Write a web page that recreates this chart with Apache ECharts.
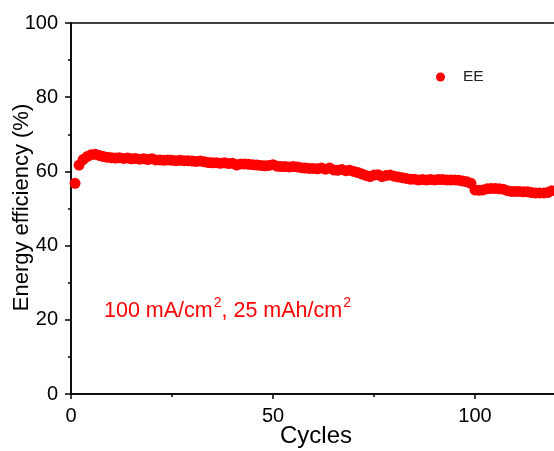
<!DOCTYPE html>
<html>
<head>
<meta charset="utf-8">
<script src="https://cdn.jsdelivr.net/npm/echarts@6/dist/echarts.min.js"></script>
<style>
  html, body { margin: 0; padding: 0; background: #fff; }
  #main { width: 554px; height: 451px; }
</style>
</head>
<body>
<div id="main"></div>
<script>
// energy efficiency per cycle
const cycles = [];
for (let i = 1; i <= 119; i++) cycles.push(i);
const ee = [
  56.8, 61.7, 63.2, 64.0, 64.5, 64.6, 64.3, 64.0, 63.8, 63.7,
  63.6, 63.7, 63.5, 63.6, 63.4, 63.5, 63.3, 63.4, 63.2, 63.4,
  63.1, 63.1, 63.0, 63.1, 63.0, 62.9, 63.0, 62.9, 62.9, 62.8,
  62.7, 62.8, 62.6, 62.4, 62.3, 62.3, 62.2, 62.3, 62.1, 62.2,
  61.7, 62.0, 62.0, 61.9, 61.8, 61.7, 61.6, 61.5, 61.6, 61.8,
  61.4, 61.3, 61.3, 61.2, 61.3, 61.2, 61.0, 60.9, 60.8, 60.8,
  60.7, 60.9, 60.6, 60.9, 60.4, 60.3, 60.5, 60.2, 60.3, 60.0,
  59.7, 59.3, 58.9, 58.6, 59.0, 59.1, 58.6, 58.9, 59.0, 58.7,
  58.5, 58.3, 58.1, 57.9, 57.9, 57.7, 57.8, 57.7, 57.8, 57.7,
  57.8, 57.8, 57.7, 57.7, 57.7, 57.6, 57.4, 57.2, 56.8, 55.0,
  54.9, 55.0, 55.3, 55.4, 55.4, 55.3, 55.2, 54.8, 54.6, 54.6,
  54.6, 54.5, 54.5, 54.3, 54.2, 54.2, 54.2, 54.3, 54.8
];
const seriesName = 'EE';
const yTicks = [0, 20, 40, 60, 80, 100];
const xTicks = [0, 50, 100];

const font = 'Liberation Sans, Arial, Helvetica, sans-serif';
const chart = echarts.init(document.getElementById('main'));

chart.setOption({
  animation: false,
  textStyle: { fontFamily: font },
  // plot box runs past the right edge of the picture, like the original crop
  grid: {
    left: 71, top: 23, width: 606, height: 371,
    show: true, borderColor: '#000', borderWidth: 1.5,
    outerBoundsMode: 'none'
  },
  legend: {
    data: [seriesName],
    left: 431, top: 64,
    icon: 'circle', itemWidth: 9, itemHeight: 9,
    textStyle: { fontSize: 15.5, color: '#222', padding: [0, 0, 0, 13] }
  },
  xAxis: {
    type: 'value', min: 0, max: 150, interval: 50,
    splitLine: { show: false },
    axisLine: { lineStyle: { color: '#000', width: 1.5 } },
    axisTick: { inside: false, length: 5, lineStyle: { color: '#000', width: 1.5 } },
    minorTick: { show: true, splitNumber: 2, length: 3, lineStyle: { color: '#000', width: 1.5 } },
    axisLabel: {
      fontSize: 20, color: '#000', margin: 12,
      formatter: v => xTicks.indexOf(v) > -1 ? String(v) : ''
    }
  },
  yAxis: {
    type: 'value', min: 0, max: 100, interval: 20,
    splitLine: { show: false },
    axisLine: { show: true, lineStyle: { color: '#000', width: 1.5 } },
    axisTick: { show: true, inside: false, length: 6, lineStyle: { color: '#000', width: 1.5 } },
    minorTick: { show: true, splitNumber: 2, length: 3, lineStyle: { color: '#000', width: 1.5 } },
    axisLabel: {
      fontSize: 20, color: '#000', margin: 13,
      formatter: v => yTicks.indexOf(v) > -1 ? String(v) : ''
    }
  },
  series: [{
    name: seriesName,
    type: 'scatter',
    symbol: 'circle',
    symbolSize: 11,
    itemStyle: { color: '#ff0000', opacity: 1 },
    data: cycles.map((c, i) => [c, ee[i]])
  }],
  graphic: [{
    type: 'text',
    x: 21.5, y: 207.5, rotation: Math.PI / 2,
    style: {
      text: 'Energy efficiency (%)', fontSize: 22, fill: '#000', fontFamily: font,
      align: 'center', verticalAlign: 'middle'
    }
  }, {
    type: 'text',
    left: 280, top: 424,
    style: { text: 'Cycles', fontSize: 24, fill: '#000', fontFamily: font }
  }, {
    type: 'text',
    left: 104, top: 296,
    style: {
      text: '{a|100 mA/cm}{s|2}{a|, 25 mAh/cm}{s|2}',
      rich: {
        a: { fontSize: 21.5, fill: '#ff0000', fontFamily: font, verticalAlign: 'bottom', lineHeight: 26 },
        s: { fontSize: 14, fill: '#ff0000', fontFamily: font, verticalAlign: 'top', lineHeight: 14, padding: [0, 0, 0, 1] }
      }
    }
  }]
});
</script>
</body>
</html>
